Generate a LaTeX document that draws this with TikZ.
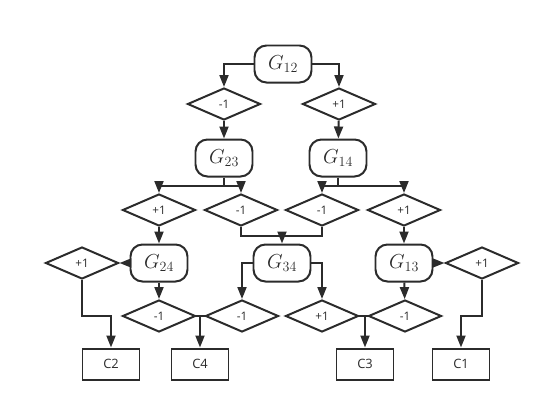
\documentclass[tikz,border=0pt]{standalone}
\usepackage{fontspec}
\setsansfont{Open Sans}
\usetikzlibrary{shapes.geometric,arrows.meta}
\definecolor{linegray}{HTML}{2B2B2B}
\tikzset{
  gbox/.style={draw, rounded corners=0.36cm, minimum width=1.71cm, minimum height=1.11cm,
    inner sep=0pt, font=\fontsize{18}{21}\selectfont},
  sign/.style={draw, diamond, minimum width=2.19cm, minimum height=0.96cm,
    inner sep=0pt, font=\sffamily\fontsize{10}{12}\selectfont},
  cbox/.style={draw, minimum width=1.71cm, minimum height=0.93cm,
    inner sep=0pt, font=\sffamily\fontsize{11}{13}\selectfont},
}
\begin{document}
\begin{tikzpicture}[x=0.03cm, y=-0.03cm, line width=1.7pt, draw=linegray, text=linegray,
    >={Triangle[length=0.36cm,width=0.27cm]}]
  \useasboundingbox (0,0) rectangle (549,409);
  \draw
    (283,64) node[gbox] (g12){$G_{12}$}
    (224,104) node[sign] (d1){-1}
    (339,104) node[sign] (d2){+1}
    (224,158) node[gbox] (g23){$G_{23}$}
    (338,158) node[gbox] (g14){$G_{14}$}
    (159,210) node[sign] (d3){+1}
    (241,210) node[sign] (d4){-1}
    (322,210) node[sign] (d5){-1}
    (404,210) node[sign] (d6){+1}
    (82,263) node[sign] (d7){+1}
    (159,263) node[gbox] (g24){$G_{24}$}
    (282,263) node[gbox] (g34){$G_{34}$}
    (404,263) node[gbox] (g13){$G_{13}$}
    (482,263) node[sign] (d8){+1}
    (159,316) node[sign] (d9){-1}
    (242,316) node[sign] (d10){-1}
    (322,316) node[sign] (d11){+1}
    (405,316) node[sign] (d12){-1}
    (111,364) node[cbox] (c2){C2}
    (200,364) node[cbox] (c4){C4}
    (365,364) node[cbox] (c3){C3}
    (461,364) node[cbox] (c1){C1};
  \coordinate (j1) at (224,186);
  \coordinate (j2) at (338,186);
  \coordinate (j3) at (282,236);
  \coordinate (j4) at (200,316);
  \coordinate (j5) at (365,316);
  \begin{scope}[->]
    \draw (g12.west) -| (d1.north);
    \draw (g12.east) -| (d2.north);
    \draw (d1) to (g23);
    \draw (d2) to (g14);
    \draw (g23.south) -- (j1) -| (d3.north);
    \draw (j1) -| (d4.north);
    \draw (g14.south) -- (j2) -| (d5.north);
    \draw (j2) -| (d6.north);
    \draw (d3) to (g24);
    \draw (d6) to (g13);
    \draw[-] (d4.south) |- (j3) -| (d5.south);
    \draw (j3) to (g34.north);
    \draw (g24.west) to (d7.east);
    \draw (g13.east) to (d8.west);
    \draw (g24) to (d9);
    \draw (g34.west) -| (d10.north);
    \draw (g34.east) -| (d11.north);
    \draw (g13) to (d12);
    \draw[-] (d9.east) to (d10.west);
    \draw[-] (d11.east) to (d12.west);
    \draw (j4) to (c4.north);
    \draw (j5) to (c3.north);
    \draw (d7.south) -- ++(0,36) -| (c2.north);
    \draw (d8.south) -- ++(0,36) -| (c1.north);
  \end{scope}
\end{tikzpicture}
\end{document}
